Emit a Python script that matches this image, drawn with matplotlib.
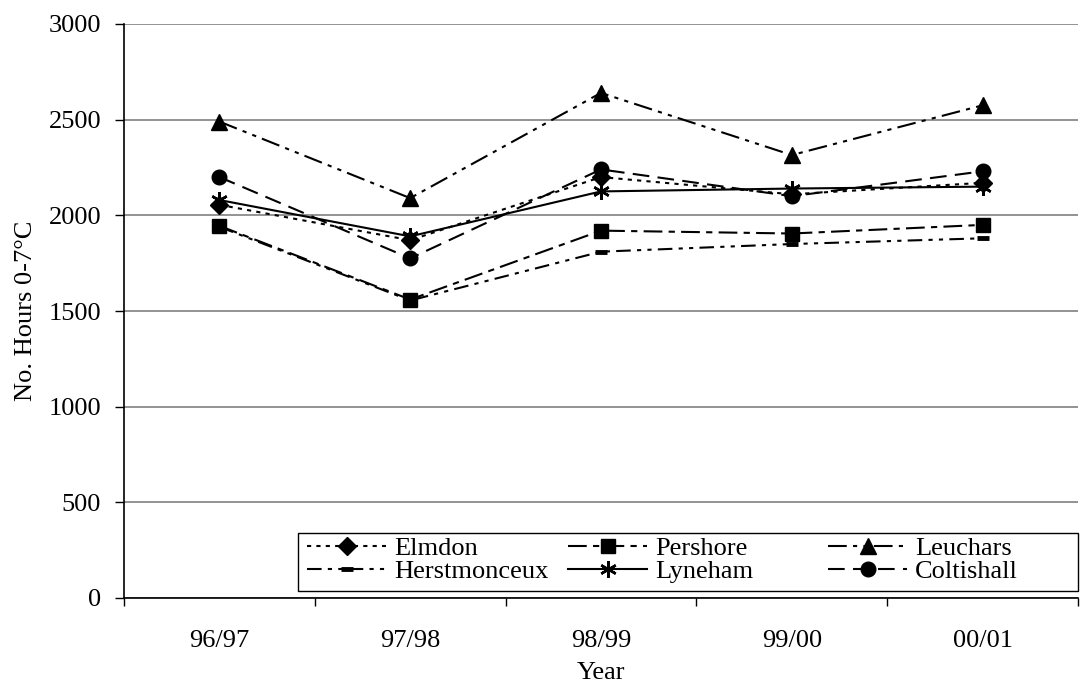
import matplotlib
matplotlib.use("Agg")
import matplotlib.pyplot as plt
from matplotlib.patches import Rectangle
from matplotlib.legend import Legend

plt.rcParams['font.family'] = ['Liberation Serif', 'DejaVu Serif']

years = ['96/97', '97/98', '98/99', '99/00', '00/01']
elmdon = [2055, 1870, 2200, 2110, 2170]
pershore = [1945, 1560, 1920, 1905, 1950]
leuchars = [2490, 2090, 2640, 2315, 2575]
herstmonceux = [1940, 1555, 1810, 1850, 1880]
lyneham = [2080, 1890, 2125, 2140, 2150]
coltishall = [2200, 1775, 2240, 2100, 2230]

W, H = 1083, 682
fs = 19
fig = plt.figure(figsize=(W / 100, H / 100), dpi=100)
ax = fig.add_axes([124 / W, 1 - 598 / H, 954 / W, 574 / H])

x = list(range(len(years)))
lw = 1.5
h_elm, = ax.plot(x, elmdon, color='black', lw=lw, ls=(0, (2, 2.5)), marker='D', ms=9, label='Elmdon')
h_per, = ax.plot(x, pershore, color='black', lw=lw, ls=(0, (9, 3, 3, 3)), marker='s', ms=10.5, label='Pershore')
h_leu, = ax.plot(x, leuchars, color='black', lw=lw, ls=(0, (9, 3, 2, 3, 2, 3)), marker='^', ms=11, label='Leuchars')
h_her, = ax.plot(x, herstmonceux, color='black', lw=lw, ls=(0, (7, 3, 2, 3, 2, 3)), marker='_', ms=8, mew=3.5, label='Herstmonceux')
h_lyn, = ax.plot(x, lyneham, color='black', lw=lw, ls='-', marker=(6, 2, 0), ms=12, mew=1.8, label='Lyneham')
h_col, = ax.plot(x, coltishall, color='black', lw=lw, ls=(0, (8, 4)), marker='o', ms=10.5, label='Coltishall')

ax.set_xlim(-0.5, len(years) - 0.5)
ax.set_ylim(0, 3000)
ax.set_yticks(range(0, 3001, 500))
ax.yaxis.grid(True, color='#808080', lw=1.2)
ax.set_axisbelow(True)

ax.set_xticks([i + 0.5 for i in range(-1, len(years))])
ax.set_xticklabels([])
ax.set_xticks(x, minor=True)
ax.set_xticklabels(years, minor=True)
ax.tick_params(axis='x', which='major', direction='out', length=6, width=1)
ax.tick_params(axis='x', which='minor', length=0, pad=23, labelsize=fs)
ax.tick_params(axis='y', direction='out', length=6.5, width=1, pad=10, labelsize=fs)

for s in ['top', 'right']:
    ax.spines[s].set_visible(False)
ax.spines['left'].set_linewidth(1.2)
ax.spines['bottom'].set_linewidth(1.2)

ax.set_ylabel('No. Hours 0-7°C', fontsize=fs, labelpad=8)
ax.set_xlabel('Year', fontsize=fs, labelpad=7)

# legend frame with three equal-width columns, rows filled left to right
frame = Rectangle((298 / W, 1 - 591 / H), 780 / W, 58 / H, transform=fig.transFigure,
                  facecolor='white', edgecolor='black', lw=1, zorder=4, clip_on=False)
ax.add_patch(frame)
columns = [(h_elm, h_her), (h_per, h_lyn), (h_leu, h_col)]
col_x = [307, 568, 828]
for hs, cx in zip(columns, col_x):
    leg = Legend(ax, list(hs), [h.get_label() for h in hs], loc='center left',
                 bbox_to_anchor=(cx / W, 1 - 560 / H), bbox_transform=fig.transFigure,
                 frameon=False, fontsize=fs, handlelength=3.0, handletextpad=0.3,
                 labelspacing=0.0, borderpad=0, borderaxespad=0)
    leg.set_zorder(5)
    ax.add_artist(leg)

fig.savefig('out.png', dpi=100)
